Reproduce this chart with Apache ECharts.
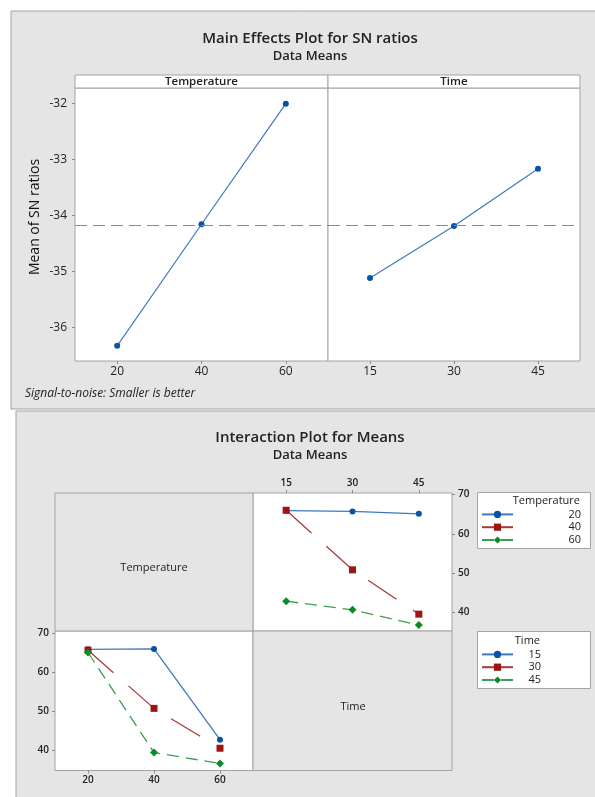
<!DOCTYPE html>
<html>
<head>
<meta charset="utf-8">
<script src="https://cdn.jsdelivr.net/npm/echarts@6/dist/echarts.min.js"></script>
<style>
  html, body { margin: 0; padding: 0; background: #ffffff; }
  #chart { width: 595px; height: 797px; }
</style>
</head>
<body>
<div id="chart"></div>
<script>
// ---- data ----
const tempLevels = ['20', '40', '60'];
const timeLevels = ['15', '30', '45'];

// Main effects: mean of SN ratios per factor level
const snTemperature = [-36.33, -34.16, -32.01];
const snTime = [-35.12, -34.19, -33.17];
const snTicks = [-36, -35, -34, -33, -32];

// Interaction: cell means, one row per temperature, columns are time 15/30/45
const meansTemp20 = [65.9, 65.7, 65.1];
const meansTemp40 = [66.0, 50.8, 39.5];
const meansTemp60 = [42.8, 40.6, 36.7];
const meanTicks = [40, 50, 60, 70];

// ---- derived ----
const grandMean = snTemperature.reduce((a, b) => a + b, 0) / snTemperature.length;
const meanRows = [meansTemp20, meansTemp40, meansTemp60];
const meanCols = timeLevels.map((_, j) => meanRows.map(r => r[j]));

const FONT = 'Open Sans';
const TXT = '#222';
const FRAME = '#a3a3a3';
const PANEL = '#e5e5e5';

const styles = [
  { line: '#3f78c0', mark: '#0a52a3', symbol: 'circle', size: 6, type: 'solid' },
  { line: '#a83a3a', mark: '#9c1515', symbol: 'rect', size: 7, type: [34, 20] },
  { line: '#3c9e52', mark: '#0a8a2a', symbol: 'diamond', size: 8, type: [12, 7] }
];

function interSeries(name, data, axis, k) {
  const s = styles[k];
  return {
    name: name, type: 'line', xAxisIndex: axis, yAxisIndex: axis, data: data,
    symbol: s.symbol, symbolSize: s.size, showSymbol: true,
    lineStyle: { color: s.line, width: 1.3, type: s.type },
    itemStyle: { color: s.mark },
    emphasis: { disabled: true }, animation: false, z: 3 + k
  };
}

function text(x, y, str, o) {
  o = o || {};
  return {
    type: 'text', x: x, y: y, rotation: o.rotation || 0, z: 50,
    style: {
      text: str, fill: o.color || TXT,
      fontFamily: FONT, fontSize: o.size || 12, fontWeight: o.weight || 'normal',
      fontStyle: o.style || 'normal',
      textAlign: o.align || 'center', align: o.align || 'center',
      textVerticalAlign: 'middle', verticalAlign: 'middle'
    }
  };
}

function box(x, y, w, h, fill, z) {
  return {
    type: 'rect', z: z, shape: { x: x, y: y, width: w, height: h },
    style: { fill: fill, stroke: FRAME, lineWidth: 1 }
  };
}

const mainLine = (data, axis) => ({
  type: 'line', xAxisIndex: axis, yAxisIndex: axis, data: data,
  symbol: 'circle', symbolSize: 6,
  lineStyle: { color: '#3f78c0', width: 1.2 },
  itemStyle: { color: '#0a52a3' },
  emphasis: { disabled: true }, animation: false, z: 3,
  markLine: {
    silent: true, symbol: 'none', label: { show: false }, animation: false,
    lineStyle: { color: '#8a8a8a', width: 1, type: [12, 6] },
    data: [{ yAxis: grandMean }]
  }
});

const catAxis = (grid, data, pos, fs, weight) => ({
  type: 'category', gridIndex: grid, data: data, position: pos, boundaryGap: true,
  axisLine: { show: false },
  axisTick: { show: true, alignWithLabel: true, length: 3, lineStyle: { color: '#888' } },
  axisLabel: { fontFamily: FONT, fontSize: fs, fontWeight: weight, color: TXT, margin: 5 },
  splitLine: { show: false }
});

const valAxis = (grid, min, max, ticks, pos, fs, weight, showLabels, margin) => ({
  type: 'value', gridIndex: grid, min: min, max: max, position: pos,
  axisLine: { show: false },
  axisTick: { show: showLabels, length: 3, customValues: ticks, lineStyle: { color: '#888' } },
  axisLabel: { show: showLabels, customValues: ticks, fontFamily: FONT, fontSize: fs,
               fontWeight: weight, color: TXT, margin: margin },
  splitLine: { show: false }
});

const legendBase = (data, top, textW) => ({
  data: data, orient: 'vertical', left: 481, top: top,
  itemWidth: 31, itemHeight: 9, itemGap: 0, padding: 0,
  selectedMode: false,
  textStyle: {
    fontFamily: FONT, fontSize: 11, color: TXT, lineHeight: 12.8,
    rich: { v: { width: textW, align: 'right', fontFamily: FONT, fontSize: 11, color: TXT, lineHeight: 12.8 } }
  },
  formatter: n => '{v|' + n + '}'
});

const chart = echarts.init(document.getElementById('chart'), null, { renderer: 'canvas' });

chart.setOption({
  backgroundColor: '#ffffff',
  animation: false,
  grid: [
    { left: 75, top: 88, width: 253, height: 273, show: true, backgroundColor: '#fff', borderColor: FRAME, borderWidth: 1 },
    { left: 328, top: 88, width: 252, height: 273, show: true, backgroundColor: '#fff', borderColor: FRAME, borderWidth: 1 },
    { left: 253, top: 493, width: 199, height: 138, show: true, backgroundColor: '#fff', borderColor: FRAME, borderWidth: 1 },
    { left: 55, top: 631, width: 198, height: 139.5, show: true, backgroundColor: '#fff', borderColor: FRAME, borderWidth: 1 }
  ],
  xAxis: [
    catAxis(0, tempLevels, 'bottom', 12, 'normal'),
    catAxis(1, timeLevels, 'bottom', 12, 'normal'),
    catAxis(2, timeLevels, 'top', 10, 600),
    catAxis(3, tempLevels, 'bottom', 10, 600)
  ],
  yAxis: [
    valAxis(0, -36.6, -31.73, snTicks, 'left', 12, 'normal', true, 8),
    valAxis(1, -36.6, -31.73, snTicks, 'left', 12, 'normal', false, 8),
    valAxis(2, 35.2, 70.4, meanTicks, 'right', 10, 600, true, 6),
    valAxis(3, 34.9, 70.6, meanTicks, 'left', 10, 600, true, 6)
  ],
  legend: [
    legendBase(tempLevels, 508, 63),
    legendBase(timeLevels, 648, 23)
  ],
  graphic: [
    // panel backgrounds
    box(11, 11, 600, 398, PANEL, -100),
    box(16, 411, 600, 400, PANEL, -100),
    // strip headers of the main effects plot
    box(75, 75, 253, 13, '#ffffff', 1),
    box(328, 75, 252, 13, '#ffffff', 1),
    text(201.5, 81.5, 'Temperature', { size: 11.5, weight: 600 }),
    text(454, 81.5, 'Time', { size: 11.5, weight: 600 }),
    // titles
    text(310, 39, 'Main Effects Plot for SN ratios', { size: 15, weight: 600 }),
    text(310, 56, 'Data Means', { size: 13, weight: 600 }),
    text(310, 438, 'Interaction Plot for Means', { size: 15, weight: 600 }),
    text(310, 455, 'Data Means', { size: 13, weight: 600 }),
    // axis title and footnote
    text(35, 217, 'Mean of SN ratios', { size: 14, rotation: Math.PI / 2, color: '#111' }),
    text(25, 394, 'Signal-to-noise: Smaller is better', { size: 12, style: 'italic', align: 'left' }),
    // diagonal cells of the interaction matrix
    box(55, 493, 198, 138, PANEL, 1),
    box(253, 631, 199, 139.5, PANEL, 1),
    text(154, 568, 'Temperature', { size: 11 }),
    text(353, 707, 'Time', { size: 11 }),
    // legend frames and titles
    box(477.5, 492.5, 113, 56, '#ffffff', 1),
    box(477.5, 631.5, 113, 57, '#ffffff', 1),
    text(580, 501, 'Temperature', { size: 11, align: 'right' }),
    text(540, 641, 'Time', { size: 11, align: 'right' })
  ],
  series: [
    mainLine(snTemperature, 0),
    mainLine(snTime, 1),
    interSeries(tempLevels[0], meanRows[0], 2, 0),
    interSeries(tempLevels[1], meanRows[1], 2, 1),
    interSeries(tempLevels[2], meanRows[2], 2, 2),
    interSeries(timeLevels[0], meanCols[0], 3, 0),
    interSeries(timeLevels[1], meanCols[1], 3, 1),
    interSeries(timeLevels[2], meanCols[2], 3, 2)
  ]
});
</script>
</body>
</html>
